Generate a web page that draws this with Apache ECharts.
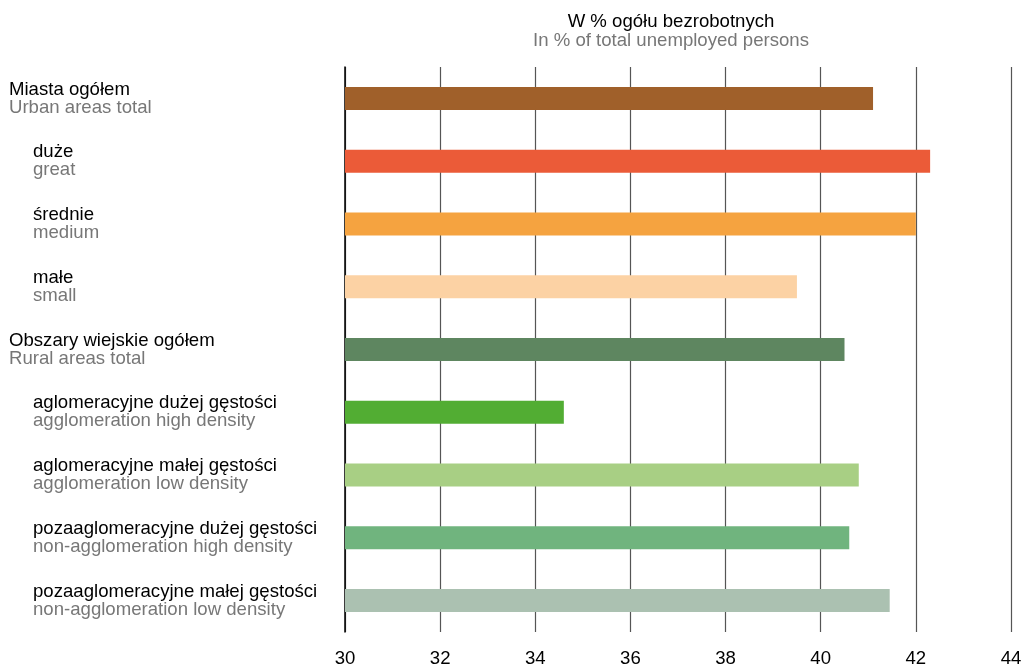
<!DOCTYPE html>
<html>
<head>
<meta charset="utf-8">
<script src="https://cdn.jsdelivr.net/npm/echarts@6/dist/echarts.min.js"></script>
<style>
html,body{margin:0;padding:0;background:#fff;}
#chart{width:1026px;height:665px;}
</style>
</head>
<body>
<div id="chart"></div>
<script>
const categoriesPl = ['Miasta ogółem','duże','średnie','małe','Obszary wiejskie ogółem','aglomeracyjne dużej gęstości','aglomeracyjne małej gęstości','pozaaglomeracyjne dużej gęstości','pozaaglomeracyjne małej gęstości'];
const categoriesEn = ['Urban areas total','great','medium','small','Rural areas total','agglomeration high density','agglomeration low density','non-agglomeration high density','non-agglomeration low density'];
const isSub = [false,true,true,true,false,true,true,true,true];
const values = [41.1, 42.3, 42.0, 39.5, 40.5, 34.6, 40.8, 40.6, 41.45];
const barColors = ['#A0602A','#EB5B38','#F5A340','#FCD2A4','#5E8660','#52AD33','#A8CF84','#70B47E','#ABC1B1'];
const titlePl = 'W % ogółu bezrobotnych';
const titleEn = 'In % of total unemployed persons';

const FONT = '"Liberation Sans", Arial, sans-serif';
const FS = 18.6;
const chart = echarts.init(document.getElementById('chart'));
const cats = categoriesPl.map((c, i) => i);
chart.setOption({
  animation: false,
  title: {
    text: '{a|' + titlePl + '}\n{b|' + titleEn + '}',
    left: 666, top: 7, textAlign: 'center',
    textStyle: {
      fontFamily: FONT, fontWeight: 'normal',
      rich: {
        a: {fontSize: FS, color: '#000', lineHeight: 19, fontFamily: FONT, fontWeight: 'normal'},
        b: {fontSize: FS, color: '#777', lineHeight: 19, fontFamily: FONT, fontWeight: 'normal'}
      }
    }
  },
  grid: {left: 345, right: 15, top: 67, bottom: 33, containLabel: false, outerBoundsMode: 'none'},
  xAxis: {
    type: 'value', min: 30, max: 44, interval: 2, position: 'bottom',
    axisLine: {show: false}, axisTick: {show: false},
    splitLine: {show: true, lineStyle: {color: '#555', width: 1.2}},
    axisLabel: {fontFamily: FONT, fontSize: FS, color: '#000', margin: 17}
  },
  yAxis: {
    type: 'category', data: cats, inverse: true,
    axisLine: {show: true, lineStyle: {color: '#000', width: 1.5}},
    axisTick: {show: false},
    axisLabel: {
      align: 'left', margin: 336, fontFamily: FONT,
      formatter: function (v) {
        const i = +v;
        if (isSub[i]) return '{c|' + categoriesPl[i] + '}\n{d|' + categoriesEn[i] + '}';
        return '{a|' + categoriesPl[i] + '}\n{b|' + categoriesEn[i] + '}';
      },
      rich: {
        a: {fontSize: FS, color: '#000', lineHeight: 18, fontFamily: FONT},
        b: {fontSize: FS, color: '#777', lineHeight: 18, fontFamily: FONT},
        c: {fontSize: FS, color: '#000', lineHeight: 18, fontFamily: FONT, padding: [0,0,0,24]},
        d: {fontSize: FS, color: '#777', lineHeight: 18, fontFamily: FONT, padding: [0,0,0,24]}
      }
    }
  },
  series: [{
    type: 'bar', barWidth: 23,
    data: values.map((v, i) => ({value: v, itemStyle: {color: barColors[i]}}))
  }]
});
</script>
</body>
</html>
